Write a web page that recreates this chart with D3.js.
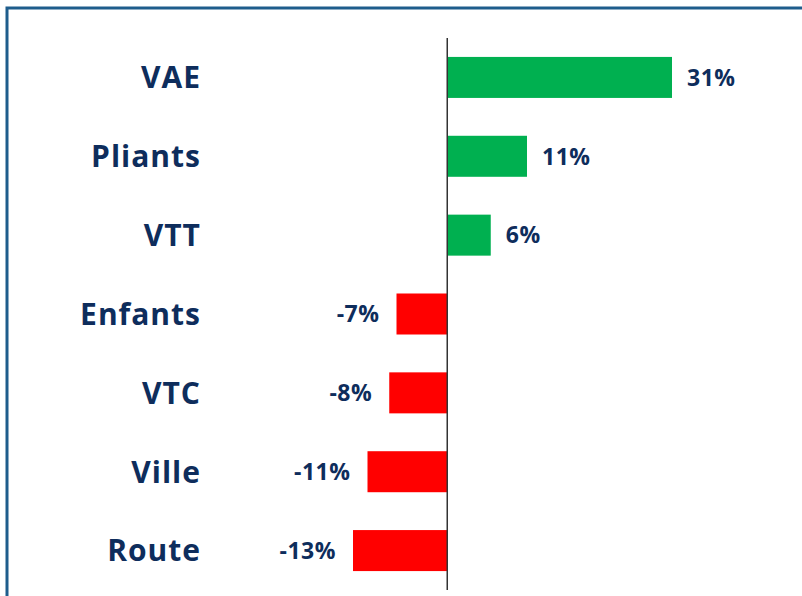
<!DOCTYPE html>
<html>
<head>
<meta charset="utf-8">
<script src="https://cdn.jsdelivr.net/npm/d3@7"></script>
<style>
  body { margin: 0; background: #fff; }
  svg { display: block; }
</style>
</head>
<body>
<svg></svg>
<script>
var categories = ["VAE", "Pliants", "VTT", "Enfants", "VTC", "Ville", "Route"];
var values = [31, 11, 6, -7, -8, -11, -13];
var valueLabels = ["31%", "11%", "6%", "-7%", "-8%", "-11%", "-13%"];

window.onload = function(){
    var svgCanvas = d3.select("svg")
        .attr("width", 802)
        .attr("height", 596);

    var navy = "#0e2d5c";

    // frame: top and left edges only
    svgCanvas.append("path")
        .attr("d", "M7,596 V8 H802")
        .attr("fill", "none")
        .attr("stroke", "#1e5d8c")
        .attr("stroke-width", 3);

    var x = d3.scaleLinear()
        .domain([-13, 31])
        .range([353, 672]);

    var y = d3.scaleBand()
        .domain(categories)
        .range([38, 590])
        .paddingInner(0.48)
        .paddingOuter(0.24);

    var data = categories.map(function(c, i){
        return {cat: c, value: values[i], label: valueLabels[i]};
    });

    svgCanvas.selectAll("rect.bar")
        .data(data).enter()
        .append("rect")
        .attr("class", "bar")
        .attr("x", function(d){ return x(Math.min(0, d.value)); })
        .attr("y", function(d){ return y(d.cat); })
        .attr("width", function(d){ return Math.abs(x(d.value) - x(0)); })
        .attr("height", y.bandwidth())
        .attr("fill", function(d){ return d.value >= 0 ? "#00b050" : "#ff0000"; });

    // zero line
    svgCanvas.append("line")
        .attr("x1", x(0)).attr("x2", x(0))
        .attr("y1", 38).attr("y2", 590)
        .attr("stroke", "#333")
        .attr("stroke-width", 1.5);

    // category labels
    svgCanvas.selectAll("text.cat")
        .data(data).enter()
        .append("text")
        .attr("class", "cat")
        .attr("x", 201)
        .attr("y", function(d){ return y(d.cat) + y.bandwidth() / 2; })
        .attr("dy", "0.36em")
        .attr("text-anchor", "end")
        .attr("font-family", "'Open Sans', sans-serif")
        .attr("font-weight", 700)
        .attr("font-size", 30)
        .attr("letter-spacing", 1)
        .attr("fill", navy)
        .text(function(d){ return d.cat; });

    // value labels
    svgCanvas.selectAll("text.val")
        .data(data).enter()
        .append("text")
        .attr("class", "val")
        .attr("x", function(d){ return d.value >= 0 ? x(d.value) + 15 : x(d.value) - 17; })
        .attr("y", function(d){ return y(d.cat) + y.bandwidth() / 2; })
        .attr("dy", "0.36em")
        .attr("text-anchor", function(d){ return d.value >= 0 ? "start" : "end"; })
        .attr("font-family", "'Open Sans', sans-serif")
        .attr("font-weight", 700)
        .attr("font-size", 23)
        .attr("letter-spacing", 0.5)
        .attr("fill", navy)
        .text(function(d){ return d.label; });
}
</script>
</body>
</html>
